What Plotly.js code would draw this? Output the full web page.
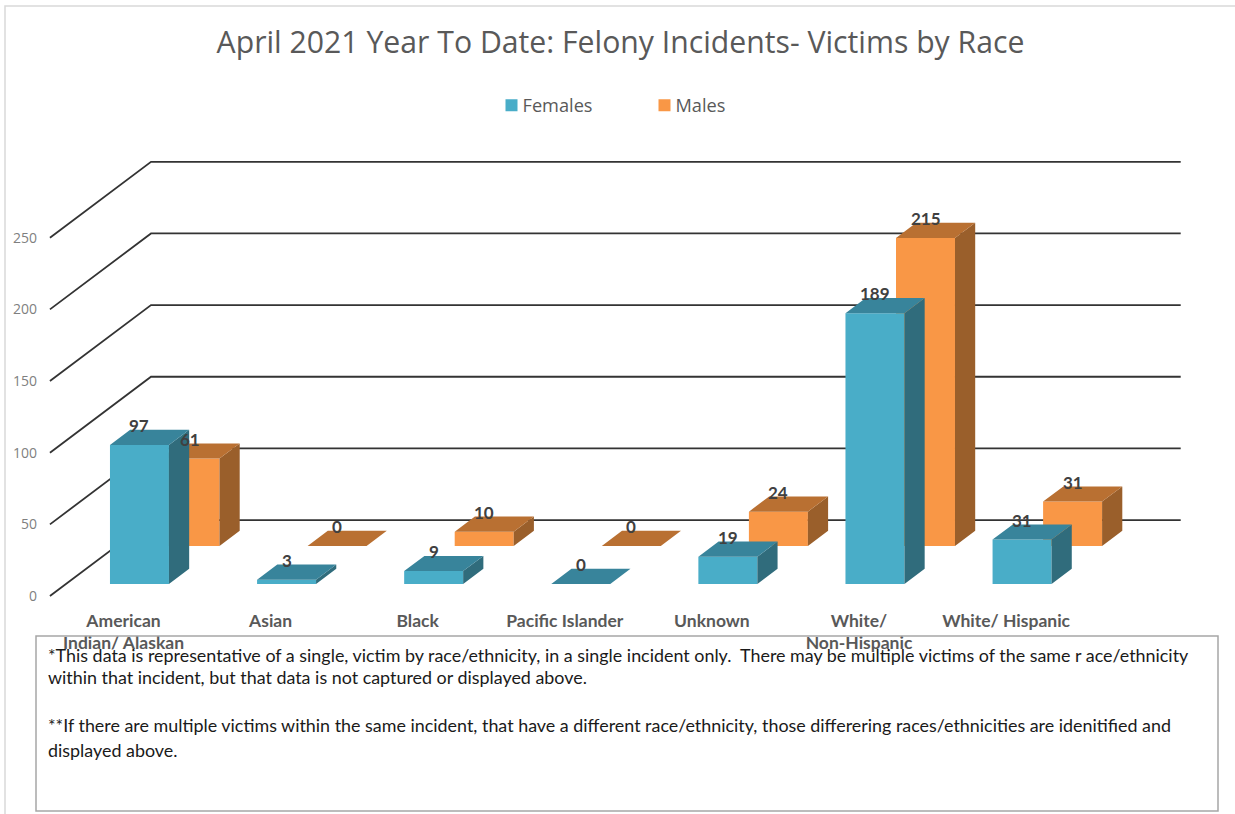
<!DOCTYPE html>
<html><head><meta charset="utf-8">
<script src="https://cdn.plot.ly/plotly-3.0.1.min.js"></script>
<style>html,body{margin:0;padding:0;background:#fff}#c{width:1235px;height:814px}</style>
</head><body><div id="c"></div>
<script>
const categories = ["American<br>Indian/ Alaskan","Asian","Black","Pacific Islander","Unknown","White/<br>Non-Hispanic","White/ Hispanic"];
const females = [97,3,9,0,19,189,31];
const males = [61,0,10,0,24,215,31];
const yTicks = [0,50,100,150,200,250];
const noteLines = [
 "*This data is representative of a single, victim by race/ethnicity, in a single incident only.  There may be multiple victims of the same r ace/ethnicity",
 "within that incident, but that data is not captured or displayed above.",
 "**If there are multiple victims within the same incident, that have a different race/ethnicity, those differering races/ethnicities are idenitified and",
 "displayed above."];
const noteY = [655,677,725,750];

const W=1235,H=814, ml=41, mt=140, mb=214;
const pxPerCat=147.1, pxPerVal=1.433, zeroPx=596, cat0Px=123.5;
const plotW=W-ml, plotH=H-mt-mb, plotBottom=H-mb;
const xRange=[(ml-cat0Px)/pxPerCat,(W-cat0Px)/pxPerCat];
const yRange=[(zeroPx-plotBottom)/pxPerVal,(zeroPx-mt)/pxPerVal];
const px=p=>(p-ml)/plotW, py=p=>1-(p-mt)/plotH;

// oblique projection of the depth axis onto the 2D axes
const depthX=0.687, depthY=53, barW=0.401, barD=0.2;
const xs=categories.map((_,i)=>i);

function gridTrace(){
  const x=[],y=[];
  yTicks.forEach(t=>{x.push(-0.5,-0.5+depthX,categories.length-0.5+depthX,null);y.push(t,t+depthY,t+depthY,null);});
  return {type:'scatter',mode:'lines',x,y,xaxis:'x',yaxis:'y',showlegend:false,hoverinfo:'skip',line:{color:'#333333',width:1.8}};
}
function seriesTraces(name,vals,depth,ax,cols,rank){
  const ox=depth*depthX, oy=depth*depthY, dx=barD*depthX, dy=barD*depthY;
  const front={type:'bar',name,x:xs.map(i=>i+ox),y:vals,base:vals.map(()=>oy),width:barW,xaxis:'x'+ax,yaxis:'y'+ax,
    marker:{color:cols[0],line:{width:0}},legendrank:rank,hoverinfo:'skip'};
  const tx=[],ty=[],sx=[],sy=[];
  vals.forEach((v,i)=>{
    const l=i+ox-barW/2,r=i+ox+barW/2,t=v+oy;
    tx.push(l,r,r+dx,l+dx,l,null);ty.push(t,t,t+dy,t+dy,t,null);
    sx.push(r,r+dx,r+dx,r,r,null);sy.push(oy,oy+dy,t+dy,t,oy,null);
  });
  const poly=(x,y,c)=>({type:'scatter',mode:'lines',x,y,fill:'toself',fillcolor:c,line:{width:0,color:c},xaxis:'x'+ax,yaxis:'y'+ax,showlegend:false,hoverinfo:'skip'});
  const labels=vals.map((v,i)=>({x:i+ox,y:v+oy,xref:'x'+ax,yref:'y'+ax,text:String(v),showarrow:false,yanchor:'bottom',yshift:7,
     font:{family:'Lato, sans-serif',size:17,color:'#404040',weight:700}}));
  return {traces:[front,poly(sx,sy,cols[2]),poly(tx,ty,cols[1])],labels};
}
const m=seriesTraces('Males',males,0.658,'2',['#F99746','#B97032','#9A5F2B'],2);
const f=seriesTraces('Females',females,0.158,'3',['#49ADC8','#38849B','#306C7C'],1);

const hiddenAxis=(a)=>({overlaying:a,range:a==='x'?xRange:yRange,visible:false,fixedrange:true});
const layout={
  width:W,height:H,paper_bgcolor:'#fff',plot_bgcolor:'rgba(0,0,0,0)',
  margin:{l:ml,r:0,t:mt,b:mb,pad:0},
  barmode:'overlay',
  title:{text:'April 2021 Year To Date: Felony Incidents- Victims by Race',x:620.5/W,xanchor:'center',y:1-42/H,yanchor:'middle',
    font:{family:'"Open Sans", sans-serif',size:30.2,color:'#595959'}},
  legend:{orientation:'h',x:px(491.5),xanchor:'left',y:py(87),yanchor:'top',entrywidth:108,entrywidthmode:'pixels',itemwidth:30,
    font:{family:'"Open Sans", sans-serif',size:18.2,color:'#595959'},bgcolor:'rgba(0,0,0,0)'},
  xaxis:{range:xRange,tickvals:xs,ticktext:categories,showgrid:false,zeroline:false,showline:false,ticks:'',fixedrange:true,tickangle:0,
    ticklabelstandoff:8,tickfont:{family:'Lato, sans-serif',size:17.5,color:'#595959',weight:700}},
  yaxis:{range:yRange,tickvals:yTicks,showgrid:false,zeroline:false,showline:false,ticks:'',fixedrange:true,ticklabelstandoff:3,
    tickfont:{family:'"Open Sans", sans-serif',size:14,color:'#7f7f7f'}},
  xaxis2:hiddenAxis('x'),yaxis2:hiddenAxis('y'),
  xaxis3:hiddenAxis('x'),yaxis3:hiddenAxis('y'),
  shapes:[
    {type:'rect',xref:'paper',yref:'paper',x0:px(5),x1:px(1245),y0:py(6),y1:py(830),line:{color:'#d9d9d9',width:1.5},fillcolor:'rgba(0,0,0,0)',layer:'below'},
    {type:'rect',xref:'paper',yref:'paper',x0:px(36),x1:px(1218),y0:py(636),y1:py(811),line:{color:'#a6a6a6',width:1.5},fillcolor:'rgba(0,0,0,0)'}
  ],
  annotations:[...m.labels,...f.labels,...noteLines.map((t,i)=>({xref:'paper',yref:'paper',x:px(46),y:py(noteY[i]),xanchor:'left',yanchor:'middle',text:t,showarrow:false,align:'left',
     font:{family:'Lato, sans-serif',size:17.9,color:'#1a1a1a'}}))]
};
Plotly.newPlot('c',[gridTrace(),...m.traces,...f.traces],layout,{displayModeBar:false,staticPlot:true}).then(()=>{
  // tighten the gap between legend swatch and label
  document.querySelectorAll('#c .legendtext').forEach(t=>t.setAttribute('x','31'));
});
</script></body></html>
